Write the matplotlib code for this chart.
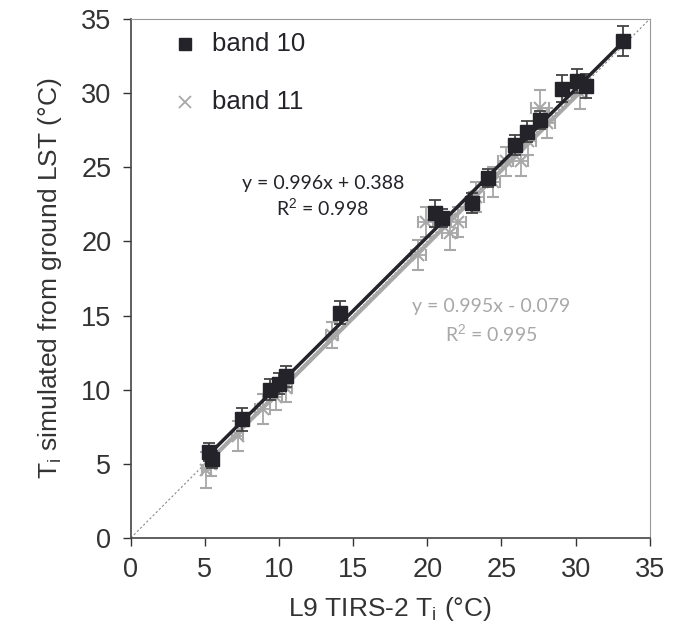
import numpy as np
import matplotlib
matplotlib.use("Agg")
import matplotlib.pyplot as plt

# band 10 (black squares): L9 TIRS-2 Ti vs simulated Ti
b10_x = [5.3, 5.5, 7.5, 9.4, 10.0, 10.5, 14.1, 20.5, 21.0, 23.0, 24.1, 25.9, 26.7, 27.6, 29.1, 30.1, 30.7, 33.2]
b10_y = [5.8, 5.3, 8.0, 10.0, 10.4, 10.9, 15.2, 21.9, 21.6, 22.6, 24.3, 26.5, 27.4, 28.2, 30.3, 30.8, 30.5, 33.5]
b10_yerr = [0.6, 0.6, 0.8, 0.7, 0.7, 0.7, 0.8, 0.9, 0.6, 0.7, 0.6, 0.7, 0.7, 0.6, 0.9, 0.8, 0.8, 1.0]

# band 11 (grey crosses)
b11_x = [5.1, 5.4, 7.2, 8.9, 9.8, 10.5, 13.6, 19.4, 19.9, 21.5, 22.1, 23.3, 24.4, 25.3, 26.3, 26.8, 27.6, 28.1, 30.3]
b11_y = [4.6, 5.0, 6.9, 8.7, 9.5, 10.1, 13.7, 19.1, 21.3, 20.6, 21.3, 23.0, 24.0, 25.4, 25.4, 26.8, 29.0, 28.0, 30.0]
b11_yerr = [1.2, 0.8, 1.0, 1.0, 0.9, 0.9, 0.9, 1.0, 1.0, 1.2, 1.0, 1.0, 1.0, 1.0, 1.0, 1.0, 1.2, 1.0, 1.1]
b11_xerr = [0.3, 0.3, 0.4, 0.5, 0.4, 0.4, 0.4, 0.5, 0.5, 0.5, 0.5, 0.5, 0.5, 0.5, 0.5, 0.5, 0.6, 0.5, 0.5]

fit10 = (0.996, 0.388, 0.998)
fit11 = (0.995, -0.079, 0.995)

dark = "#232329"
grey = "#a8a8a8"
txt = "#333333"

plt.rcParams["font.family"] = ["Liberation Sans", "DejaVu Sans"]
plt.rcParams["mathtext.fontset"] = "custom"
plt.rcParams["mathtext.rm"] = "Liberation Sans"

fig = plt.figure(figsize=(6.74, 6.26), dpi=100)
ax = fig.add_axes([0.194, 0.1406, 0.77, 0.829])

# 1:1 line
ax.plot([0, 35], [0, 35], ls=(0, (2, 2)), color="#888888", lw=0.8, zorder=1)

# band 11
ax.errorbar(b11_x, b11_y, yerr=b11_yerr, xerr=b11_xerr, fmt="x", color=grey,
            ms=8, mew=1.5, ecolor=grey, elinewidth=1.3, capsize=4, capthick=1.3, zorder=2)
xs = np.array([min(b11_x), max(b11_x)])
ax.plot(xs, fit11[0] * xs + fit11[1], color=grey, lw=3, zorder=3)

# band 10
ax.errorbar(b10_x, b10_y, yerr=b10_yerr, fmt="s", color=dark, ms=10,
            ecolor="#444444", elinewidth=1.3, capsize=4, capthick=1.3, zorder=4)
xs = np.array([min(b10_x), max(b10_x)])
ax.plot(xs, fit10[0] * xs + fit10[1], color=dark, lw=2.5, zorder=5)

# legend
ax.plot([3.64], [33.3], "s", color=dark, ms=9)
ax.text(5.46, 33.3, "band 10", fontsize=18.5, va="center", color=dark)
ax.plot([3.64], [29.4], "x", color=grey, ms=8, mew=1.3)
ax.text(5.46, 29.4, "band 11", fontsize=18.5, va="center", color=dark)

# fit annotations
ax.text(12.95, 23.94, "y = 0.996x + 0.388", fontsize=14, ha="center", va="center",
        color=dark, family="Lato")
ax.text(12.95, 22.3, "R$^2$ = 0.998", fontsize=14, ha="center", va="center",
        color=dark, family="Lato")
ax.text(24.3, 15.64, "y = 0.995x - 0.079", fontsize=14, ha="center", va="center",
        color=grey, family="Lato")
ax.text(24.3, 13.8, "R$^2$ = 0.995", fontsize=14, ha="center", va="center",
        color=grey, family="Lato")

ax.set_xlim(0, 35)
ax.set_ylim(0, 35)
ax.set_xticks(np.arange(0, 36, 5))
ax.set_yticks(np.arange(0, 36, 5))
ax.tick_params(direction="out", length=6, width=1, labelsize=19.5, colors=txt, pad=8)
for s in ["left", "bottom"]:
    ax.spines[s].set_color("#444444")
    ax.spines[s].set_linewidth(1.2)
for s in ["right", "top"]:
    ax.spines[s].set_color("#999999")
    ax.spines[s].set_linewidth(0.8)

ax.set_xlabel("L9 TIRS-2 $\\mathregular{T_i}$ (°C)", fontsize=19, color=txt, labelpad=8)
ax.set_ylabel("$\\mathregular{T_i}$ simulated from ground LST (°C)", fontsize=19,
              color=txt, labelpad=12)

fig.savefig("out.png", dpi=100)
